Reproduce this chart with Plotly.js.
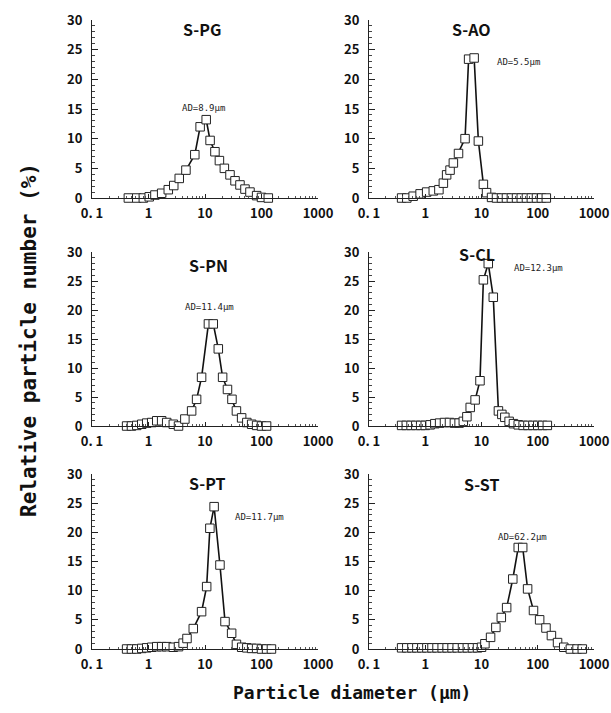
<!DOCTYPE html>
<html><head><meta charset="utf-8">
<script src="https://cdn.plot.ly/plotly-3.0.1.min.js"></script>
<style>html,body{margin:0;padding:0;background:#fff}</style>
</head><body><div id="chart" style="width:611px;height:713px"></div>
<script>
// ---------- data ----------
const panelNames = ["S-PG", "S-AO", "S-PN", "S-CL", "S-PT", "S-ST"];
const adLabels = ["AD=8.9μm", "AD=5.5μm", "AD=11.4μm", "AD=12.3μm", "AD=11.7μm", "AD=62.2μm"];
const xTickVals = [0.1, 1, 10, 100, 1000];
const xTickText = ["0. 1", "1", "10", "100", "1000"];
const yTickVals = [0, 5, 10, 15, 20, 25, 30];
const xTitle = "Particle diameter (μm)";
const yTitle = "Relative particle number (%)";

const PG_x = [0.44, 0.62, 0.81, 1.03, 1.3, 1.71, 2.24, 2.8, 3.5, 4.6, 6.6, 8.2, 10.5, 12.3, 15, 18, 22, 27.7, 34, 41.6, 51, 62.5, 82, 100, 132];
const PG_y = [0, 0, 0, 0.2, 0.5, 0.8, 1.4, 2.1, 3.3, 4.7, 7.3, 12, 13.2, 9.7, 7.8, 6.3, 5.0, 3.9, 2.9, 2.2, 1.5, 1.0, 0.4, 0.1, 0];

const AO_x = [0.38, 0.47, 0.61, 0.81, 1.06, 1.39, 1.75, 2.1, 2.4, 2.76, 3.16, 3.9, 5.1, 5.9, 7.4, 8.8, 10.8, 12.3, 15.1, 18.5, 22.7, 27.8, 34, 42, 51, 63, 77, 95, 116, 142];
const AO_y = [0, 0, 0.3, 0.7, 1.0, 1.2, 1.4, 2.5, 3.9, 4.7, 5.9, 7.5, 10, 23.4, 23.6, 9.6, 2.3, 0.9, 0.1, 0, 0, 0, 0, 0, 0, 0, 0, 0, 0, 0];

const PN_x = [0.41, 0.50, 0.62, 0.76, 0.93, 1.14, 1.4, 1.71, 2.1, 2.75, 3.4, 4.4, 5.8, 7.1, 8.7, 11.5, 14, 17.2, 20.5, 25, 30, 36, 44.5, 55, 67, 82, 100, 123];
const PN_y = [0, 0, 0.1, 0.3, 0.5, 0.6, 0.9, 0.9, 0.6, 0.3, 0, 1.2, 2.6, 4.6, 8.4, 17.6, 17.6, 13.3, 8.4, 6.3, 4.6, 2.6, 1.4, 0.6, 0.3, 0.1, 0, 0];

const CL_x = [0.38, 0.46, 0.56, 0.68, 0.83, 1.0, 1.22, 1.48, 1.8, 2.2, 2.7, 3.3, 4.0, 4.75, 5.5, 6.3, 7.7, 9.4, 10.8, 13.2, 16.2, 20, 23, 26, 31, 37, 45, 55, 67, 82, 100, 122, 148];
const CL_y = [0.1, 0.1, 0.1, 0.1, 0.1, 0.1, 0.2, 0.4, 0.5, 0.6, 0.6, 0.5, 0.5, 0.8, 1.6, 3.2, 4.5, 7.8, 25.2, 28, 22.2, 2.6, 2.0, 1.5, 0.8, 0.4, 0.2, 0.1, 0.1, 0.1, 0.1, 0.1, 0.1];

const PT_x = [0.41, 0.5, 0.62, 0.76, 0.93, 1.14, 1.4, 1.71, 2.1, 2.75, 3.4, 4.1, 4.8, 6.2, 8.7, 10.7, 12.2, 14.5, 18.4, 22.6, 29.6, 36, 44.6, 55, 67, 82, 100, 123, 150];
const PT_y = [0, 0, 0, 0.1, 0.2, 0.3, 0.4, 0.4, 0.4, 0.3, 0.4, 1.0, 1.8, 3.5, 6.4, 10.7, 20.7, 24.4, 14.4, 4.7, 2.7, 0.8, 0.3, 0.2, 0.1, 0.1, 0, 0, 0];

const ST_x = [0.38, 0.47, 0.58, 0.71, 0.87, 1.07, 1.32, 1.62, 2.0, 2.45, 3.0, 3.7, 4.6, 5.6, 6.9, 8.5, 10, 11.5, 14.5, 18, 22.5, 28, 36, 45, 54, 66, 84, 108, 140, 175, 225, 290, 380, 500, 620];
const ST_y = [0.2, 0.2, 0.2, 0.2, 0.2, 0.2, 0.2, 0.2, 0.2, 0.2, 0.2, 0.2, 0.2, 0.2, 0.2, 0.2, 0.3, 0.9, 2.0, 3.7, 5.4, 7.1, 12, 17.4, 17.4, 10.3, 6.6, 5.0, 3.6, 2.3, 1.1, 0.3, 0, 0, 0];

const seriesX = [PG_x, AO_x, PN_x, CL_x, PT_x, ST_x];
const seriesY = [PG_y, AO_y, PN_y, CL_y, PT_y, ST_y];

// ---------- layout ----------
const W = 611, H = 713;
const colPx = [[92, 318], [369, 594]];
const rowPx = [[20, 198], [252, 426], [474, 649]];
const px = v => v / W, py = v => 1 - v / H;

const tickFont = {family: "Noto Sans CJK JP", size: 13, color: "#111", weight: "bold"};
const minorX = [];
for (let e = -1; e < 3; e++) for (let m = 2; m <= 9; m++) minorX.push(m * Math.pow(10, e));

const traces = [];
const layout = {
  width: W, height: H,
  margin: {l: 0, r: 0, t: 0, b: 0},
  paper_bgcolor: "#fff", plot_bgcolor: "#fff",
  showlegend: false,
  annotations: []
};

const titlePos = [[202, 29], [471, 29], [208, 265], [477, 254], [207, 483], [481, 484]];
const adPos = [[203, 108], [518, 62], [209, 307], [538, 268], [259, 517], [522, 537]];

for (let i = 0; i < 6; i++) {
  const col = i % 2, row = Math.floor(i / 2);
  const s = i === 0 ? "" : String(i + 1);
  traces.push({
    x: seriesX[i], y: seriesY[i],
    xaxis: "x" + s, yaxis: "y" + s,
    type: "scatter", mode: "lines+markers",
    cliponaxis: false,
    line: {color: "#111", width: 1.6},
    marker: {symbol: "square", size: 8.5, color: "#fff", line: {color: "#222", width: 1}},
    hoverinfo: "skip"
  });
  layout["xaxis" + s] = {
    type: "log", range: [-1, 3],
    domain: [px(colPx[col][0]), px(colPx[col][1])],
    anchor: "y" + s,
    tickmode: "array", tickvals: xTickVals, ticktext: xTickText,
    ticks: "inside", ticklen: 4, tickcolor: "#222", tickwidth: 1,
    minor: {tickmode: "array", tickvals: minorX, ticks: "inside", ticklen: 2, tickcolor: "#555", showgrid: false},
    showline: true, linecolor: "#222", linewidth: 1,
    showgrid: false, zeroline: false,
    tickfont: tickFont, ticklabelstandoff: 3,
    fixedrange: true
  };
  layout["yaxis" + s] = {
    range: [0, 30],
    domain: [py(rowPx[row][1]), py(rowPx[row][0])],
    anchor: "x" + s,
    tickmode: "array", tickvals: yTickVals,
    ticks: "inside", ticklen: 6, tickcolor: "#222", tickwidth: 1,
    minor: {dtick: 1, ticks: "inside", ticklen: 3, tickcolor: "#444", showgrid: false},
    showline: true, linecolor: "#222", linewidth: 1,
    showgrid: false, zeroline: false,
    tickfont: tickFont, ticklabelstandoff: 6,
    fixedrange: true
  };
  layout.annotations.push({
    text: panelNames[i], xref: "paper", yref: "paper",
    x: px(titlePos[i][0]), y: py(titlePos[i][1]),
    xanchor: "center", yanchor: "middle", showarrow: false,
    font: {family: "Noto Sans CJK JP", size: 16, color: "#111", weight: "bold"}
  });
  layout.annotations.push({
    text: adLabels[i], xref: "paper", yref: "paper",
    x: px(adPos[i][0]), y: py(adPos[i][1]),
    xanchor: "center", yanchor: "middle", showarrow: false,
    font: {family: "DejaVu Sans Mono", size: 9, color: "#222"}
  });
}

layout.annotations.push({
  text: xTitle, xref: "paper", yref: "paper",
  x: px(352), y: py(692), xanchor: "center", yanchor: "middle", showarrow: false,
  font: {family: "DejaVu Sans Mono", size: 18, color: "#111", weight: "bold"}
});
layout.annotations.push({
  text: yTitle, xref: "paper", yref: "paper",
  x: px(29), y: py(340), xanchor: "center", yanchor: "middle", showarrow: false,
  textangle: -90,
  font: {family: "DejaVu Sans Mono", size: 21, color: "#111", weight: "bold"}
});

Plotly.newPlot("chart", traces, layout, {staticPlot: true, displayModeBar: false});
</script>
</body></html>
